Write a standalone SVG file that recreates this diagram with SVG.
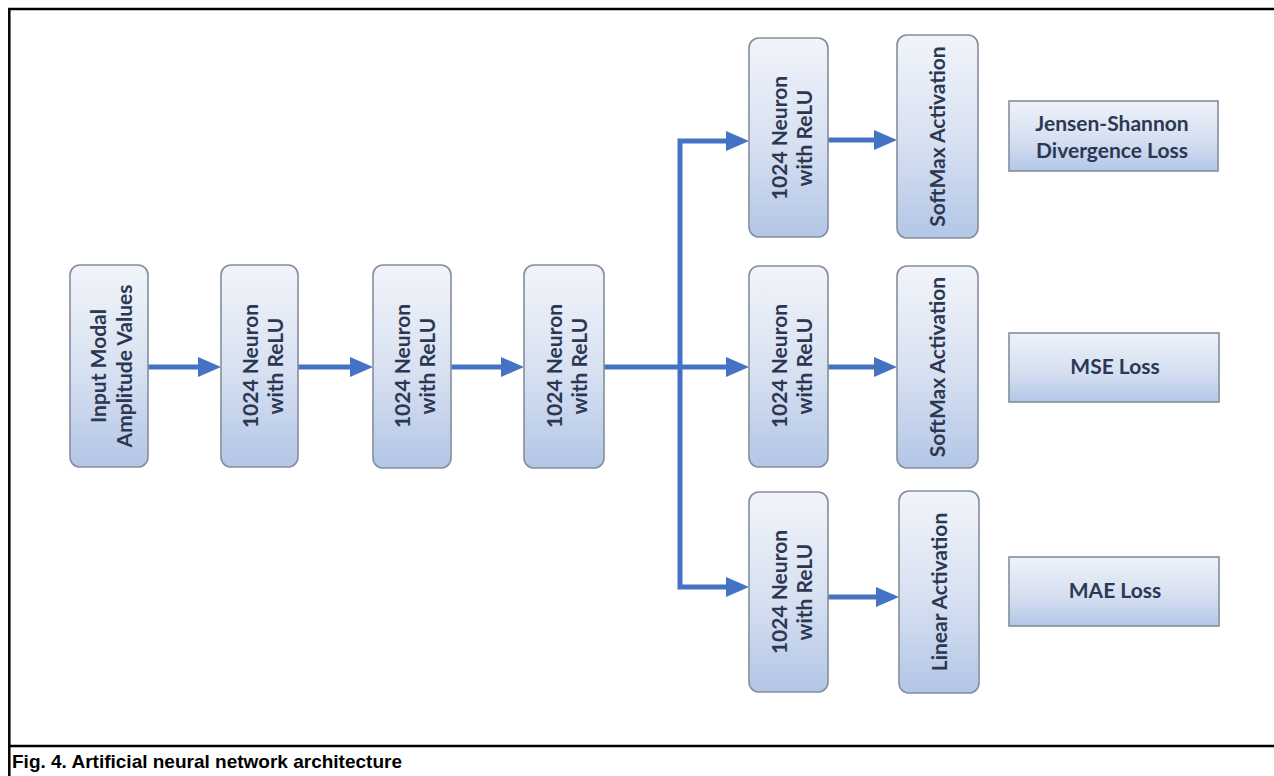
<svg xmlns="http://www.w3.org/2000/svg" width="1274" height="776" viewBox="0 0 1274 776">
<style>
.frame{stroke:#000;stroke-width:2.5;fill:none}
.vbox{fill:url(#gv);stroke:#858e9c;stroke-width:1.6}
.hbox{fill:url(#gh);stroke:#858e9c;stroke-width:1.6}
.lbl{font-family:Lato,"Open Sans","Liberation Sans",sans-serif;font-weight:bold;font-size:21px;fill:#2c3852;text-anchor:middle}
.conn{stroke:#4472c4;stroke-width:5;fill:none;stroke-linejoin:miter}
.cap{font-family:"Liberation Sans",Arial,sans-serif;font-weight:bold;font-size:19px;fill:#000}
</style>
<defs>
<linearGradient id="gv" x1="0" y1="0" x2="0" y2="1">
<stop offset="0" stop-color="#f1f4fa"/>
<stop offset="0.5" stop-color="#d9e2f2"/>
<stop offset="1" stop-color="#b3c6e6"/>
</linearGradient>
<linearGradient id="gh" x1="0" y1="0" x2="0" y2="1">
<stop offset="0" stop-color="#eef2f9"/>
<stop offset="0.55" stop-color="#d6e0f1"/>
<stop offset="1" stop-color="#b4c7e7"/>
</linearGradient>
<marker id="ah" markerUnits="userSpaceOnUse" markerWidth="24" markerHeight="22" refX="3" refY="10" orient="auto">
<path d="M0,0 L23,10 L0,20 Z" fill="#4472c4"/>
</marker>
</defs>
<rect width="1274" height="776" fill="#fff"/>
<g id="frame">
<path class="frame" d="M9.3,776 V9 H1274"/>
<path class="frame" d="M9.3,746 H1274"/>
</g>
<g id="connectors">
<path class="conn" marker-end="url(#ah)" d="M148,367 H201"/>
<path class="conn" marker-end="url(#ah)" d="M298,367 H353"/>
<path class="conn" marker-end="url(#ah)" d="M451,367 H504"/>
<path class="conn" marker-end="url(#ah)" d="M604,367 H729"/>
<path class="conn" marker-end="url(#ah)" d="M680,367 V141 H729"/>
<path class="conn" marker-end="url(#ah)" d="M680,367 V587 H729"/>
<path class="conn" marker-end="url(#ah)" d="M828,140 H877"/>
<path class="conn" marker-end="url(#ah)" d="M828,367 H877"/>
<path class="conn" marker-end="url(#ah)" d="M828,597 H879"/>
</g>
<g id="input">
<rect class="vbox" x="70" y="265" width="78" height="202" rx="10"/>
<text class="lbl" transform="translate(109,366) rotate(-90)"><tspan x="0" y="-3">Input Modal</tspan><tspan x="0" y="23">Amplitude Values</tspan></text>
</g>
<g id="dense1">
<rect class="vbox" x="221" y="265" width="77" height="202" rx="10"/>
<text class="lbl" transform="translate(259.5,366) rotate(-90)"><tspan x="0" y="-2">1024 Neuron</tspan><tspan x="0" y="23">with ReLU</tspan></text>
</g>
<g id="dense2">
<rect class="vbox" x="373" y="265" width="78" height="203" rx="10"/>
<text class="lbl" transform="translate(412,366) rotate(-90)"><tspan x="0" y="-2">1024 Neuron</tspan><tspan x="0" y="23">with ReLU</tspan></text>
</g>
<g id="dense3">
<rect class="vbox" x="524" y="265" width="80" height="203" rx="10"/>
<text class="lbl" transform="translate(564,366) rotate(-90)"><tspan x="0" y="-2">1024 Neuron</tspan><tspan x="0" y="23">with ReLU</tspan></text>
</g>
<g id="branch-top">
<rect class="vbox" x="749" y="38" width="79" height="199" rx="10"/>
<text class="lbl" transform="translate(788.5,138) rotate(-90)"><tspan x="0" y="-2">1024 Neuron</tspan><tspan x="0" y="23">with ReLU</tspan></text>
</g>
<g id="branch-mid">
<rect class="vbox" x="749" y="266" width="79" height="201" rx="10"/>
<text class="lbl" transform="translate(788.5,366) rotate(-90)"><tspan x="0" y="-2">1024 Neuron</tspan><tspan x="0" y="23">with ReLU</tspan></text>
</g>
<g id="branch-bot">
<rect class="vbox" x="749" y="492" width="79" height="200" rx="10"/>
<text class="lbl" transform="translate(788.5,592) rotate(-90)"><tspan x="0" y="-2">1024 Neuron</tspan><tspan x="0" y="23">with ReLU</tspan></text>
</g>
<g id="softmax-top">
<rect class="vbox" x="897" y="35" width="81" height="203" rx="10"/>
<text class="lbl" transform="translate(937.5,136.5) rotate(-90)"><tspan x="0" y="7.5">SoftMax Activation</tspan></text>
</g>
<g id="softmax-mid">
<rect class="vbox" x="897" y="266" width="81" height="202" rx="10"/>
<text class="lbl" transform="translate(937.5,367) rotate(-90)"><tspan x="0" y="7.5">SoftMax Activation</tspan></text>
</g>
<g id="linear">
<rect class="vbox" x="899" y="491" width="80" height="202" rx="10"/>
<text class="lbl" transform="translate(939,592) rotate(-90)"><tspan x="0" y="7.5">Linear Activation</tspan></text>
</g>
<g id="loss-js">
<rect class="hbox" x="1009" y="101" width="209" height="70"/>
<text class="lbl"><tspan x="1112" y="131">Jensen-Shannon</tspan><tspan x="1112" y="158">Divergence Loss</tspan></text>
</g>
<g id="loss-mse">
<rect class="hbox" x="1009" y="333" width="210" height="69"/>
<text class="lbl" x="1115" y="374">MSE Loss</text>
</g>
<g id="loss-mae">
<rect class="hbox" x="1009" y="557" width="210" height="69"/>
<text class="lbl" x="1115" y="598">MAE Loss</text>
</g>
<text class="cap" x="12" y="768">Fig. 4. Artificial neural network architecture</text>
</svg>
